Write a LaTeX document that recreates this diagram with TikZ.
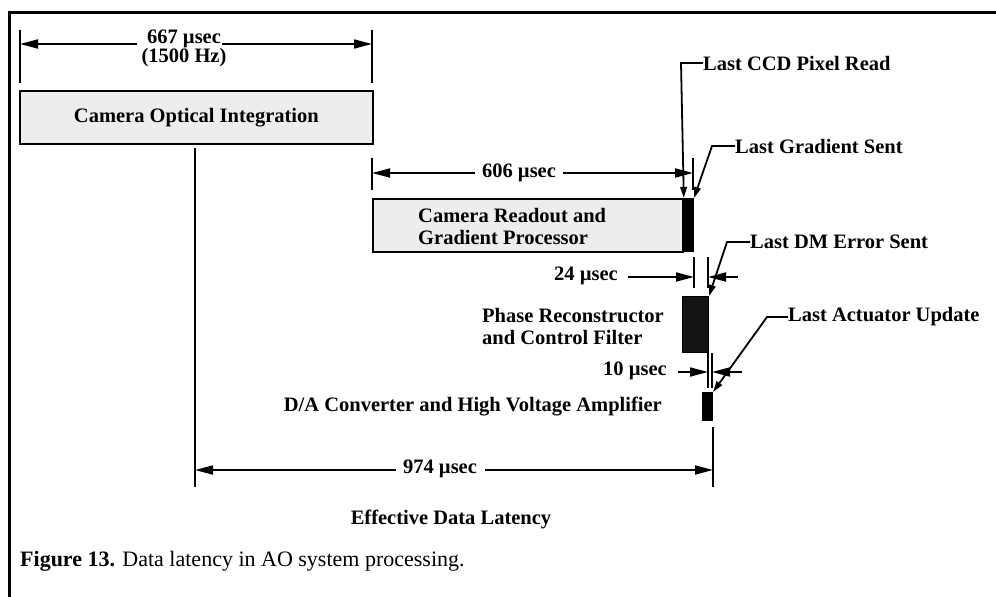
\documentclass[tikz,border=0pt]{standalone}
\usepackage{fontspec}
\setmainfont{Liberation Serif}
\usetikzlibrary{arrows.meta}
\begin{document}
\begin{tikzpicture}[x=1pt,y=-1pt,
  lbl/.style={font=\fontsize{20.5}{22}\selectfont\bfseries, inner sep=0pt},
  greybox/.style={draw, line width=1.8pt, fill=gray!14, inner sep=0pt, anchor=north west},
  blackbox/.style={draw, line width=1pt, fill=black, inner sep=0pt, anchor=north west},
  dimarrow/.style={line width=1.8pt, -{Triangle[length=18pt,width=9pt]}},
  extline/.style={line width=1.8pt},
  leader/.style={line width=1.8pt, -{Triangle[length=11pt,width=6.5pt]}}]
\useasboundingbox (0,0) rectangle (996,597);
\fill[white] (0,0) rectangle (996,597);
% frame
\draw[line width=3pt] (9,597) -- (9,12) -- (996,12);

% boxes
\node[greybox, minimum width=353pt, minimum height=53pt] (coi) at (19,90) {};
\node[lbl] (coit) at (coi.center) {Camera Optical Integration};
\node[greybox, minimum width=310pt, minimum height=53pt] (crg) at (372,198) {};
\node[lbl, anchor=west, align=left] (crgt) at (418,226) {Camera Readout and\\Gradient Processor};
\node[blackbox, minimum width=11pt, minimum height=53pt] (gbar) at (682,198) {};
\node[blackbox, fill=black!92, minimum width=26pt, minimum height=56pt] (prc) at (682,296) {};
\node[lbl, anchor=west, align=left] (prct) at (482,326) {Phase Reconstructor\\and Control Filter};
\node[blackbox, minimum width=10pt, minimum height=28pt] (dac) at (702,392) {};
\node[lbl, anchor=east] (dact) at (662,407) {D/A Converter and High Voltage Amplifier};

% 667 usec dimension
\coordinate (e1a) at (20,30); \coordinate (e1b) at (20,83);
\coordinate (e2a) at (372,30); \coordinate (e2b) at (372,83);
\draw[extline] (e1a) -- (e1b);
\draw[extline] (e2a) -- (e2b);
\node[lbl] (t667) at (184,39) {667 µsec};
\node[lbl] (t1500) at (184,58) {(1500 Hz)};
\coordinate (d1l) at (137,44); \coordinate (d1r) at (222,44);
\draw[dimarrow] (d1l) -- (e1a |- d1l);
\draw[dimarrow] (d1r) -- (e2a |- d1r);

% 606 usec dimension
\coordinate (e3a) at (372,158); \coordinate (e3b) at (372,190);
\coordinate (e4a) at (693,158); \coordinate (e4b) at (693,190);
\draw[extline] (e3a) -- (e3b);
\draw[extline] (e4a) -- (e4b);
\node[lbl] (t606) at (519,173) {606 µsec};
\coordinate (d2l) at (475,173); \coordinate (d2r) at (563,173);
\draw[dimarrow] (d2l) -- (e3a |- d2l);
\draw[dimarrow] (d2r) -- (e4a |- d2r);

% 24 usec dimension
\coordinate (e5a) at (694,257); \coordinate (e5b) at (694,288);
\coordinate (e6a) at (708,257); \coordinate (e6b) at (708,288);
\draw[extline] (e5a) -- (e5b);
\draw[extline] (e6a) -- (e6b);
\node[lbl] (t24) at (586,276) {24 µsec};
\coordinate (d3l) at (628,277); \coordinate (d3r) at (738,277);
\draw[dimarrow] (d3l) -- (e5a |- d3l);
\draw[dimarrow] (d3r) -- (e6a |- d3r);

% 10 usec dimension
\coordinate (e7a) at (708,353); \coordinate (e7b) at (708,388);
\coordinate (e8a) at (712,353); \coordinate (e8b) at (712,388);
\draw[extline] (e7a) -- (e7b);
\draw[extline] (e8a) -- (e8b);
\node[lbl] (t10) at (635,371) {10 µsec};
\coordinate (d4l) at (678,372); \coordinate (d4r) at (742,372);
\draw[dimarrow] (d4l) -- (e7a |- d4l);
\draw[dimarrow] (d4r) -- (e8a |- d4r);

% 974 usec dimension
\coordinate (e9a) at (195,148); \coordinate (e9b) at (195,487);
\coordinate (e10a) at (713,427); \coordinate (e10b) at (713,487);
\draw[extline] (e9a) -- (e9b);
\draw[extline] (e10a) -- (e10b);
\node[lbl] (t974) at (440,469) {974 µsec};
\coordinate (d5l) at (396,470); \coordinate (d5r) at (485,470);
\draw[dimarrow] (d5l) -- (e9a |- d5l);
\draw[dimarrow] (d5r) -- (e10a |- d5r);
\node[lbl] (eff) at (451,519) {Effective Data Latency};

% event labels with leaders
\node[lbl, anchor=west] (ccd) at (703,63) {Last CCD Pixel Read};
\draw[leader] (ccd.west) -- (681,63) -- (crg.north east);
\node[lbl, anchor=west] (grad) at (735,146) {Last Gradient Sent};
\draw[leader] (grad.west) -- (712,146) -- (gbar.north east);
\node[lbl, anchor=west] (dme) at (750,242) {Last DM Error Sent};
\draw[leader] (dme.west) -- (727,242) -- (prc.north east);
\node[lbl, anchor=west] (act) at (788,317) {Last Actuator Update};
\draw[leader] (act.west) -- (767,317) -- (dac.north east);

% caption
\node[anchor=west, inner sep=0pt, font=\fontsize{22}{24}\selectfont] (cap) at (20,561) {\textbf{Figure 13.} Data latency in AO system processing.};
\end{tikzpicture}
\end{document}
